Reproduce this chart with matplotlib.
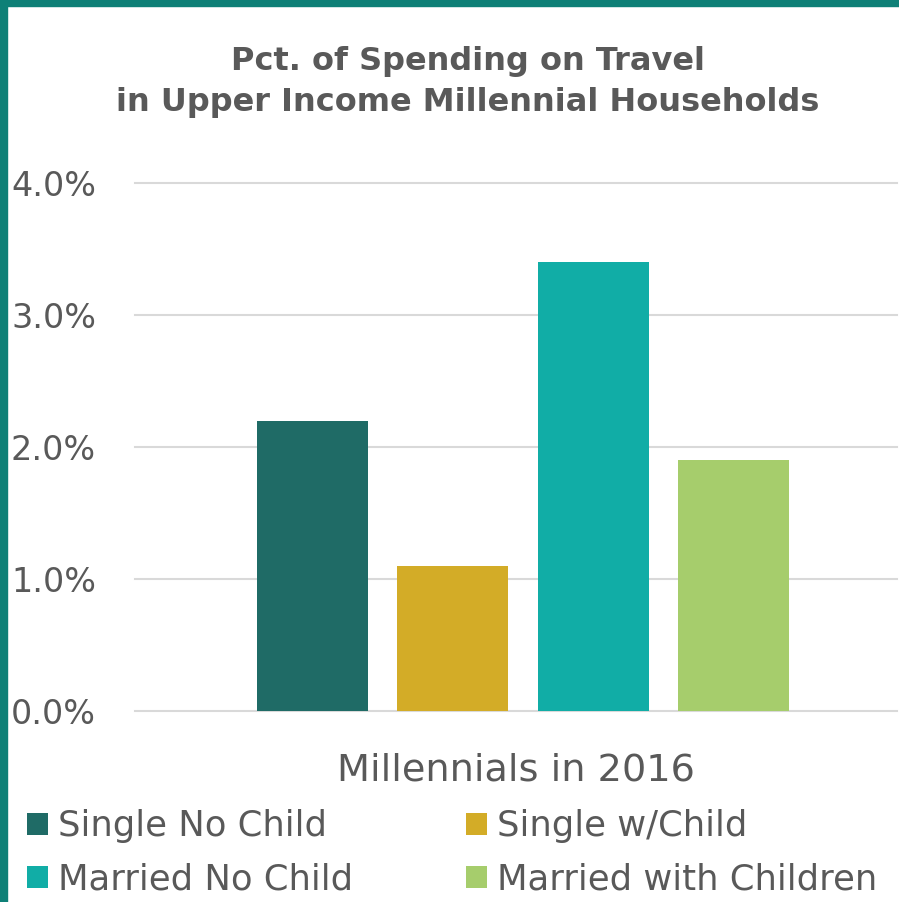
import matplotlib.pyplot as plt
from matplotlib.patches import Rectangle

# data
categories = ["Single No Child", "Single w/Child", "Married No Child", "Married with Children"]
values = [2.2, 1.1, 3.4, 1.9]
colors = ["#1F6B66", "#D3AC27", "#11ADA6", "#A6CD6C"]
yticks = [0, 1, 2, 3, 4]
ytick_labels = ["0.0%", "1.0%", "2.0%", "3.0%", "4.0%"]

W, H = 899, 902
txt = "#595959"
plt.rcParams['font.family'] = ['DejaVu Sans']

fig = plt.figure(figsize=(W / 100, H / 100), dpi=100)

# teal frame on the left and top
fig.patches.append(Rectangle((0, 0), 7 / W, 1, transform=fig.transFigure, color="#0E8077", zorder=10))
fig.patches.append(Rectangle((0, 1 - 6 / H), 1, 6 / H, transform=fig.transFigure, color="#0E8077", zorder=10))

ax = fig.add_axes([135 / W, (H - 711) / H, (897 - 135) / W, (711 - 183) / H])
x = range(len(values))
bars = ax.bar(x, values, width=0.79, color=colors, zorder=3)
ax.set_xlim(-1.26, 4.16)
ax.set_ylim(0, 4)
ax.set_yticks(yticks)
ax.set_yticklabels(ytick_labels)
ax.set_xticks([])
for y in yticks:
    ax.axhline(y, color="#D9D9D9", lw=1.5, zorder=1, clip_on=False)
for s in ax.spines.values():
    s.set_visible(False)
ax.tick_params(axis='y', length=0, pad=28, labelsize=24, labelcolor=txt)
ax.set_xlabel("Millennials in 2016", fontsize=27.5, color=txt, labelpad=30)

fig.text(468 / W, 1 - 82 / H, "Pct. of Spending on Travel\nin Upper Income Millennial Households",
         ha='center', va='center', fontsize=23, fontweight='bold', color=txt, linespacing=1.4)

order = [0, 2, 1, 3]
leg = fig.legend([bars[i] for i in order], [categories[i] for i in order], ncol=2,
                 loc='center left', bbox_to_anchor=(27 / W, 1 - 853 / H), frameon=False,
                 fontsize=25.5, handlelength=0.59, handleheight=0.59, handletextpad=0.28,
                 columnspacing=3.2, labelspacing=0.54, borderpad=0, borderaxespad=0)
for t in leg.get_texts():
    t.set_color(txt)

fig.savefig("out.png", dpi=100, facecolor="white")
